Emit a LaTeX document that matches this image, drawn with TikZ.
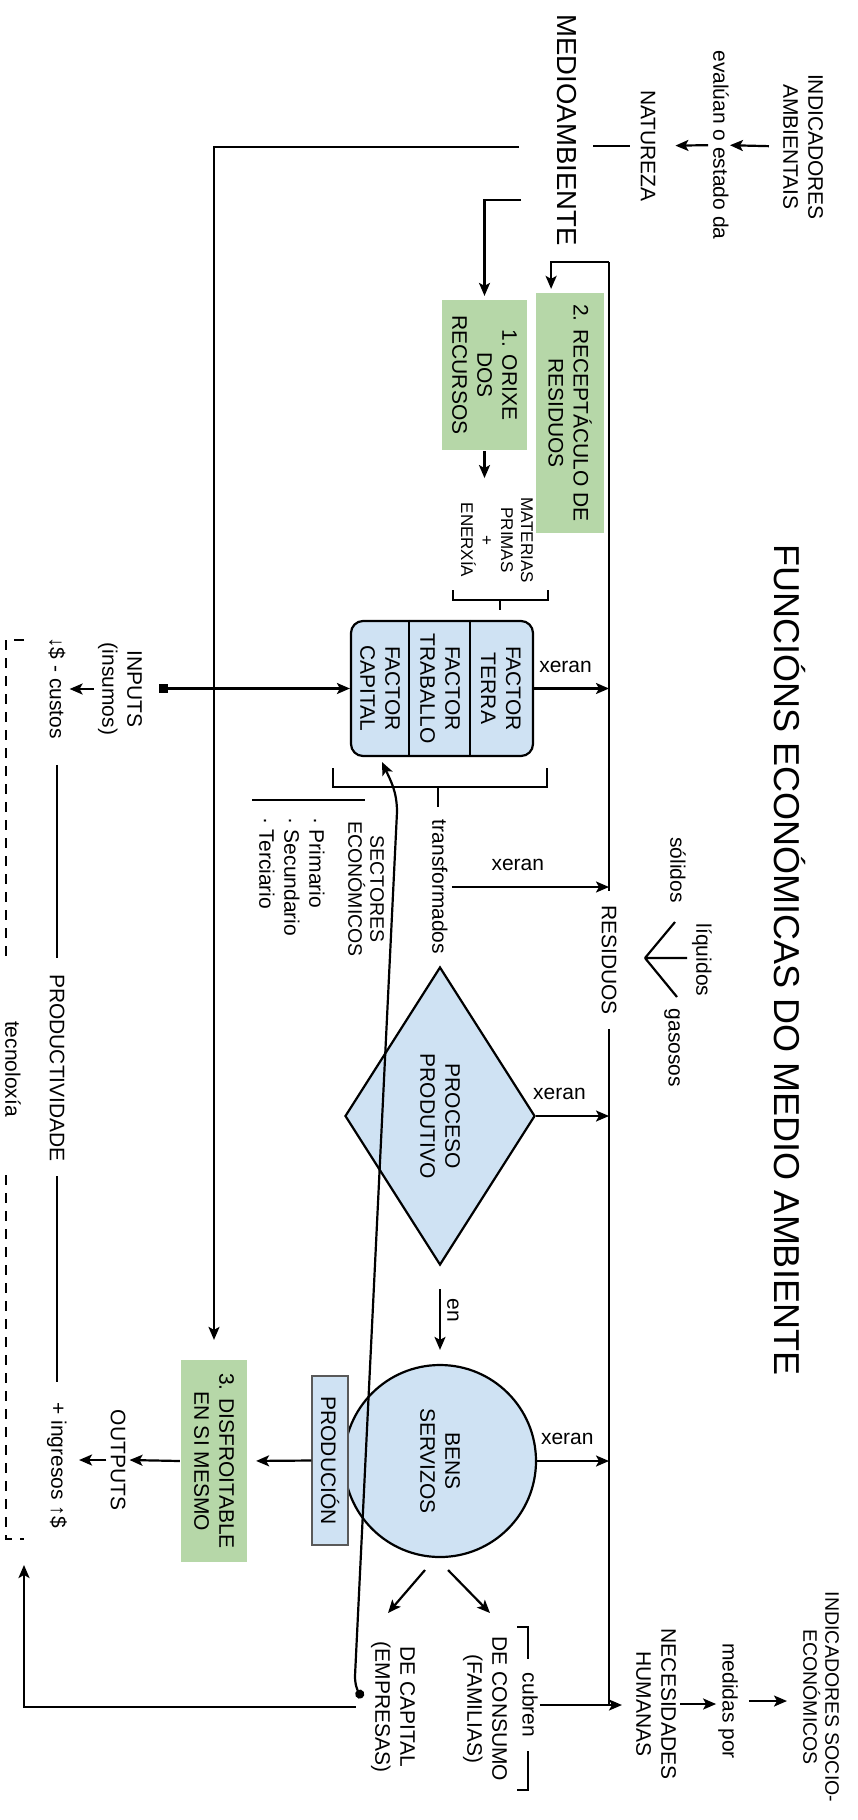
\documentclass[tikz,border=0pt]{standalone}
\usepackage{fontspec}
\setmainfont{Liberation Sans}
\usetikzlibrary{arrows.meta,shapes.geometric,positioning,calc}

\definecolor{boxgreen}{HTML}{B6D7A8}
\definecolor{boxblue}{HTML}{CFE2F3}
\newcommand{\fnorm}{\fontsize{21}{25}\selectfont}
\newcommand{\fsmall}{\fontsize{17}{20}\selectfont}
\newcommand{\fmed}{\fontsize{19.5}{22}\selectfont}
\newcommand{\fbig}{\fontsize{27.5}{30}\selectfont}
\newcommand{\ftitle}{\fontsize{36}{40}\selectfont}

\begin{document}
\begin{tikzpicture}[
    rotate=-90, transform shape, x=1pt, y=1pt, line width=2.2pt,
    lbl/.style = {align=center, inner sep=3pt, font=\fnorm},
    greenbox/.style = {lbl, fill=boxgreen, inner sep=0pt},
    bluebox/.style = {draw, fill=boxblue, align=center, font=\fnorm},
    link/.style = {-{Stealth[length=13pt,width=11pt,inset=3pt]}},
    xer/.style = {font=\fnorm, rotate=90, anchor=south, inner xsep=0pt, inner ysep=15pt},
    tech/.style = {line width=1.6pt, dash pattern=on 10pt off 8pt}
    ]
    \useasboundingbox (0,0) rectangle (1820,858);

    \node[lbl] (indamb) at (147,803) {INDICADORES\\AMBIENTAIS};
    \node[lbl, inner sep=0pt] (evalua) at (145,721) {evalúan o estado da};
    \node[lbl] (natureza) at (146,648) {NATUREZA};
    \node[lbl, font=\fbig] (medio) at (130,567) {MEDIOAMBIENTE};
    \node[lbl, font=\ftitle] (title) at (960,790) {FUNCIÓNS ECONÓMICAS DO MEDIO AMBIENTE};

    \node[greenbox, minimum width=150pt, minimum height=85pt] (orixe) at (375,484.5) {1. ORIXE\\DOS\\RECURSOS};
    \node[greenbox, minimum width=240pt, minimum height=68pt] (recep) at (413,570) {2. RECEPTÁCULO DE\\RESIDUOS};
    \node[greenbox, minimum width=202pt, minimum height=66pt] (disfr) at (1461,214) {3. DISFROITABLE\\EN SI MESMO};
    \node[lbl, font=\fsmall] (materias) at (540,497) {MATERIAS\\PRIMAS\\+\\ENERXÍA};

    \node[bluebox, rounded corners=12pt, minimum width=135pt, minimum height=182pt] (factor) at (688.5,442) {};
    \foreach \dy in {28,-33}
        \draw ($(factor.west)+(0,\dy)$) -- ($(factor.east)+(0,\dy)$);
    \foreach \nm/\dy in {TERRA/59, TRABALLO/-2, CAPITAL/-62}
        \node[lbl] (f\nm) at ($(factor.center)+(0,\dy)$) {FACTOR\\\nm};

    \node[lbl] (inputs) at (689,120) {INPUTS\\(insumos)};
    \node[lbl] (custos) at (688,57) {↓\$ - custos};
    \node[lbl] (produtiv) at (1068,57) {PRODUCTIVIDADE};
    \node[lbl] (ingresos) at (1465,57) {+ ingresos ↑\$};
    \node[lbl] (outputs) at (1460,118) {OUTPUTS};
    \node[lbl] (tecno) at (1069,13) {tecnoloxía};

    \node[lbl] (transf) at (887,440) {transformados};
    \node[lbl, font=\fmed] (sectores) at (889,366) {SECTORES\\ECONÓMICOS};
    \node[lbl, align=left, anchor=west] (sectlist) at (813,292) {· Primario\\· Secundario\\· Terciario};

    \node[lbl, inner xsep=13pt] (residuos) at (960,609) {RESIDUOS};
    \node[lbl] (solidos) at (870,678) {sólidos};
    \node[lbl] (liquidos) at (960,702) {líquidos};
    \node[lbl] (gasosos) at (1048,672) {gasosos};

    \node[bluebox, diamond, aspect=1.57, inner sep=0pt, minimum width=298pt, minimum height=190pt] (proceso) at (1116,440) {PROCESO\\PRODUTIVO};
    \node[bluebox, circle, inner sep=0pt, minimum size=192pt] (bens) at (1461,440) {BENS\\SERVIZOS};
    \node[bluebox, draw=black!65, line width=1.2pt, inner sep=0pt, minimum width=169pt, minimum height=36pt] (produc) at (1460.5,330) {PRODUCIÓN};

    \node[lbl] (consumo) at (1709,485) {DE CONSUMO\\(FAMILIAS)};
    \node[lbl] (capital) at (1707,393) {DE CAPITAL\\(EMPRESAS)};
    \draw (1627,517) -- (1627,528) -- (1790,528) -- (1790,517);
    \node[lbl, fill=white, inner xsep=14pt, inner ysep=1pt] (cubren) at (1705,530) {cubren};
    \node[lbl] (necesid) at (1704,656) {NECESIDADES\\HUMANAS};
    \node[lbl, inner sep=1pt] (medidas) at (1701,728) {medidas por};
    \node[lbl, font=\fmed] (indsoc) at (1697,821) {INDICADORES SOCIO-\\ECONÓMICOS};

    \coordinate (r0) at (262,609);
    \coordinate (m1) at (147,519);
    \coordinate (o0) at (200,521);
    \coordinate (insq) at (688.5,159);
    \coordinate (capdot) at (1698,362);
    \coordinate (captip) at (762,382);
    \coordinate (b1) at (640,6);
    \coordinate (b2) at (1539,6);
    \coordinate (fork) at (958,645);

    % medioambiente and its three functions
    \draw[link, shorten <=10pt] (indamb) -- (evalua);
    \draw[link, shorten <=4pt, shorten >=16pt] (evalua) -- (natureza);
    \draw[shorten <=7pt, shorten >=12pt] (natureza.south) -- (natureza.south |- medio.north);
    \draw[link, shorten >=19pt] (m1) |- (disfr.west);
    \draw[link, shorten >=3pt] (o0) |- (orixe.west);
    \draw[link, shorten >=3pt] (r0) |- ($(recep.north west)+(0,-54)$);
    \draw (r0) -- (r0 -| residuos.west);
    \draw (residuos.east) -- (residuos.east -| cubren);
    \draw[link, shorten >=15pt] (orixe.east) -- (orixe.east -| materias.west);

    % braces
    \draw (590,548) -- (600,548) -- (600,453) -- (590,453) (600,500) -- (610,500);
    \draw (768,547) -- (787,547) -- (787,333) -- (768,333) (787,438) -- (807,438);
    \draw (800,252) -- (800,365);
    \draw (fork) -- ++(-36,30) (fork) -- ++(0,42) (fork) -- ++(39,32);

    % xeran residuos
    \draw[link] (factor.north) -- node[xer, pos=.42] (x1) {xeran} (factor.north |- r0);
    \draw[link] (transf.north) -- node[xer, pos=.42] (x2) {xeran} (transf.north |- r0);
    \draw[link] (proceso.north) -- node[xer, pos=.32] (x3) {xeran} (proceso.north |- r0);
    \draw[link] (bens.north) -- node[xer, pos=.42] (x4) {xeran} (bens.north |- r0);

    % inputs / outputs
    \draw[{Square[length=9pt,width=9pt]}-{Stealth[length=13pt,width=11pt,inset=3pt]}] (insq) -- (factor.south);
    \draw[link] (inputs.south) -- (inputs.south |- custos.north);
    \draw[shorten <=22pt, shorten >=12pt] (custos.east) -- (produtiv.west);
    \draw[shorten <=10pt, shorten >=16pt] (produtiv.east) -- (ingresos.west);
    \draw[tech] ($(b1)+(0,18)$) -- (b1) -- (963,6);
    \draw[tech] (1175,6) -- (b2) -- ($(b2)+(0,18)$);
    \draw[link, shorten >=8pt] (produc.south) -- (disfr.north);
    \draw[link] (disfr.south) -- (outputs.north);
    \draw[link, shorten >=8pt] (outputs.south) -- (outputs.south |- ingresos.north);

    % proceso -> bens
    \draw[link, shorten <=23pt, shorten >=14pt] (proceso.east) -- node[lbl, anchor=south, pos=.45, inner sep=6pt] (en) {en} (bens.west);
    \draw[link] ($(bens.center)+(109,8)$) -- ($(bens.center)+(152,50)$);
    \draw[link] ($(bens.center)+(109,-15)$) -- ($(bens.center)+(152,-52)$);
    \draw[{Circle[length=9pt]}-{Stealth[length=13pt,width=11pt,inset=3pt]}] (capdot) to[out=210, in=0] ++(-22,-7) -- (812,397) to[out=180, in=25] (captip);
    \draw[link, shorten <=11pt, shorten >=26pt] (capital.south) |- ($(b2)+(0,18)$);

    % necesidades
    \draw[link, shorten >=10pt] (cubren.north) -- (cubren.north |- necesid.south);
    \draw[link] (necesid.north) -- (necesid.north |- medidas.south);
    \draw[link, shorten <=9pt, shorten >=12pt] (medidas.north) -- (medidas.north |- indsoc.south);
\end{tikzpicture}
\end{document}
